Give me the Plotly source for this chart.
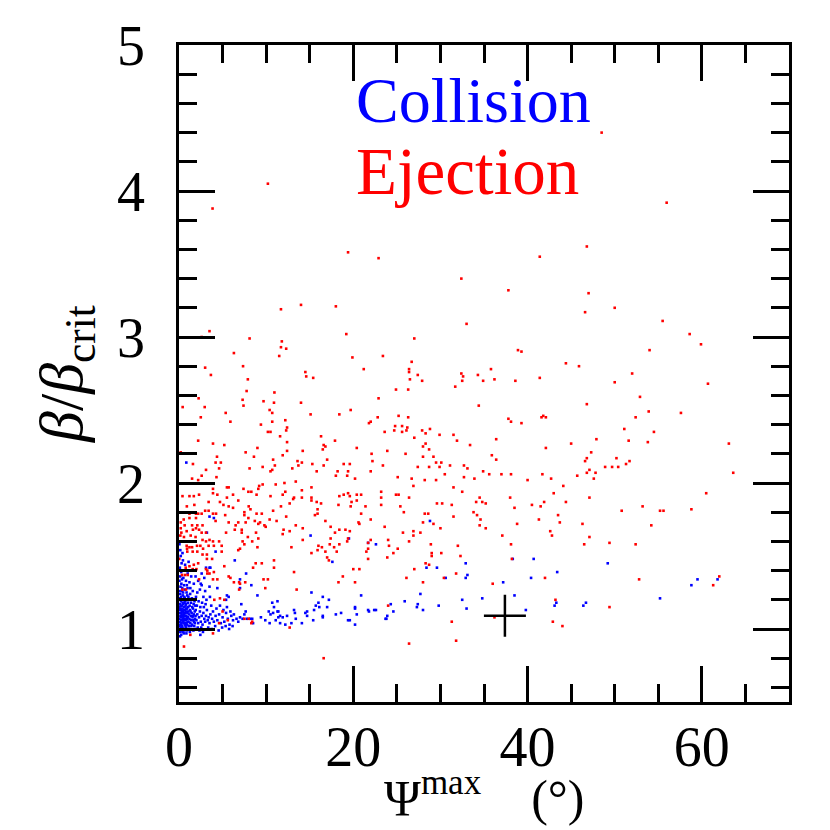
import plotly.graph_objects as go

# ---------------- data ----------------
# Ejection (red) points, grouped by region
ejection_top = [
    (10.2, 4.05), (3.85, 3.88), (55.96, 3.92), (48.5, 4.40), (19.4, 3.58), (22.9, 3.54), (46.8, 3.62),
    (41.4, 3.55), (32.4, 3.40), (37.8, 3.32), (47.0, 3.30), (46.6, 3.17), (50.0, 3.20), (55.5, 3.11),
    (11.7, 3.19), (14.0, 3.22), (18.0, 3.21), (33.0, 3.09), (3.5, 3.04), (2.6, 3.00), (19.2, 3.02),
    (27.0, 2.99), (58.6, 3.02), (59.9, 2.95), (54.0, 2.91), (6.3, 2.89), (8.1, 2.99), (11.8, 2.97),
    (11.7, 2.93), (12.3, 2.92), (11.5, 2.87), (19.9, 2.86), (23.4, 2.87), (38.9, 2.91), (39.3, 2.90),
    (44.4, 2.82), (45.9, 2.80), (7.35, 2.80), (3.0, 2.79), (3.66, 2.74), (7.9, 2.71), (7.76, 2.63),
    (10.95, 2.62), (14.5, 2.76), (14.6, 2.73), (15.4, 2.72), (21.2, 2.78), (26.7, 2.83), (26.4, 2.78),
    (26.4, 2.76), (27.4, 2.74), (26.5, 2.71), (27.9, 2.70), (24.9, 2.64), (26.3, 2.64), (31.7, 2.66),
    (32.4, 2.75), (32.6, 2.73), (32.5, 2.70), (34.3, 2.74), (34.9, 2.70), (35.8, 2.78), (36.2, 2.71),
    (38.6, 2.70), (41.4, 2.72), (50.0, 2.69), (52.0, 2.75), (60.7, 2.68), (52.9, 2.59), (22.9, 2.58),
    (2.25, 2.58), (7.3, 2.57),
]
ejection_left_mid = [
    (0.42, 2.52), (2.95, 2.52), (7.4, 2.53), (9.7, 2.56), (10.9, 2.55), (14.0, 2.55), (19.7, 2.50),
    (10.4, 2.50), (10.7, 2.48), (5.36, 2.48), (15.1, 2.47), (18.4, 2.47), (2.5, 2.45), (12.2, 2.43),
    (5.9, 2.42), (9.4, 2.40), (10.7, 2.42), (12.4, 2.38), (21.8, 2.41), (22.0, 2.42), (10.2, 2.35),
    (10.5, 2.35), (12.3, 2.36), (11.6, 2.32), (16.3, 2.32), (2.2, 2.29), (3.9, 2.27), (5.2, 2.26),
    (12.4, 2.28), (17.9, 2.29), (16.6, 2.26), (16.8, 2.25), (20.4, 2.24), (9.0, 2.24), (16.5, 2.23),
    (0.2, 2.21), (7.65, 2.21), (12.4, 2.22), (14.2, 2.22), (22.1, 2.20), (4.36, 2.18), (8.6, 2.18),
    (11.9, 2.19), (17.0, 2.16), (22.2, 2.15), (10.8, 2.16), (13.6, 2.15), (14.1, 2.14), (15.3, 2.13),
    (16.6, 2.12), (18.9, 2.13), (19.6, 2.13), (4.2, 2.14), (4.8, 2.14), (1.6, 2.13), (11.0, 2.12),
    (13.7, 2.12), (4.6, 2.10), (8.1, 2.10), (9.6, 2.11), (13.0, 2.10), (3.1, 2.09), (10.7, 2.09),
    (10.5, 2.08), (15.8, 2.08), (18.2, 2.08), (19.4, 2.08), (22.0, 2.08), (2.6, 2.05), (4.3, 2.04),
    (1.5, 2.03), (2.2, 2.02), (18.0, 2.05), (19.3, 2.05), (20.2, 2.03),
]
ejection_center_mid = [
    (34.4, 2.53), (22.8, 2.45), (25.2, 2.46), (26.3, 2.45), (37.8, 2.44), (38.1, 2.42), (39.3, 2.41),
    (41.8, 2.46), (41.6, 2.45), (42.1, 2.45), (24.8, 2.39), (25.6, 2.39), (26.2, 2.38), (26.1, 2.36),
    (24.7, 2.36), (25.6, 2.35), (23.6, 2.35), (27.9, 2.36), (28.8, 2.37), (28.3, 2.34), (29.9, 2.33),
    (31.5, 2.33), (27.0, 2.31), (31.9, 2.29), (36.4, 2.30), (28.3, 2.27), (33.4, 2.26), (28.0, 2.25),
    (28.7, 2.23), (42.1, 2.24), (45.0, 2.27), (23.9, 2.22), (26.0, 2.20), (28.0, 2.18), (29.2, 2.18),
    (35.9, 2.19), (36.4, 2.16), (29.5, 2.14), (30.1, 2.14), (23.4, 2.12), (27.4, 2.11), (28.7, 2.11),
    (29.9, 2.11), (31.1, 2.12), (32.7, 2.12), (33.1, 2.10), (30.5, 2.06), (34.9, 2.08), (35.6, 2.06),
    (37.0, 2.06), (38.1, 2.06), (41.7, 2.06), (25.1, 2.04), (26.7, 2.03), (28.2, 2.02), (29.5, 2.02),
    (32.7, 2.04), (33.9, 2.03), (40.0, 2.02), (42.7, 2.03),
]
ejection_right_mid = [
    (46.8, 2.54), (53.9, 2.49), (57.6, 2.48), (52.4, 2.45), (51.1, 2.37), (54.5, 2.35), (47.9, 2.30),
    (51.6, 2.29), (53.8, 2.28), (63.1, 2.27), (47.3, 2.21), (46.8, 2.17), (46.6, 2.15), (50.2, 2.17),
    (51.7, 2.15), (51.3, 2.13), (48.9, 2.11), (49.7, 2.11), (50.4, 2.11), (47.1, 2.09), (46.8, 2.07),
    (47.8, 2.07), (63.6, 2.07), (45.7, 2.05), (47.6, 2.03),
]
ejection_right_low = [
    (26.9, 1.98), (31.5, 1.97), (23.2, 1.94), (23.2, 1.90), (24.9, 1.92), (25.2, 1.92), (26.4, 1.90),
    (32.5, 1.94), (38.0, 1.90), (43.0, 1.93), (44.1, 1.98), (47.1, 1.90), (60.5, 1.93), (23.2, 1.85),
    (25.4, 1.84), (25.8, 1.80), (29.6, 1.86), (30.2, 1.86), (31.3, 1.85), (34.1, 1.87), (34.5, 1.90),
    (34.8, 1.87), (35.2, 1.86), (34.2, 1.78), (34.6, 1.75), (34.5, 1.71), (33.8, 1.80), (35.2, 1.69),
    (28.2, 1.79), (28.6, 1.79), (28.0, 1.73), (29.2, 1.72), (30.0, 1.69), (23.6, 1.70), (31.5, 1.77),
    (38.5, 1.83), (40.5, 1.85), (41.5, 1.84), (41.9, 1.87), (41.3, 1.75), (43.5, 1.78), (43.7, 1.73),
    (44.4, 1.87), (46.3, 1.72), (38.8, 1.72), (37.1, 1.64), (38.1, 1.58), (38.2, 1.48), (42.6, 1.67),
    (42.8, 1.64), (47.1, 1.63), (46.5, 1.58), (49.4, 1.59), (50.8, 1.81), (53.2, 1.84), (54.2, 1.71),
    (52.4, 1.58), (55.2, 1.81), (55.6, 1.81), (58.8, 1.82), (24.0, 1.61), (24.1, 1.57), (23.9, 1.49),
    (24.6, 1.52), (25.1, 1.55), (25.7, 1.66), (26.4, 1.60), (26.9, 1.67), (26.9, 1.64), (27.7, 1.66),
    (28.9, 1.58), (29.0, 1.52), (29.0, 1.50), (30.1, 1.52), (28.3, 1.45), (28.7, 1.44), (32.0, 1.57),
    (32.3, 1.50), (31.8, 1.38), (30.4, 1.35), (27.0, 1.41), (26.1, 1.35), (28.0, 1.32), (36.0, 1.31),
    (42.0, 1.35), (43.2, 1.20), (52.8, 1.34), (61.3, 1.30), (62.0, 1.36), (49.4, 1.15), (24.0, 1.16),
    (36.2, 1.08), (42.9, 1.05), (44.0, 1.02), (31.3, 1.05), (31.8, 0.92), (26.4, 0.90), (16.6, 0.80),
]
ejection_left_low = [
    (5.5, 1.97), (5.7, 1.97), (7.4, 1.96), (7.96, 1.94), (9.1, 1.96), (9.2, 1.98), (9.6, 1.99),
    (11.1, 1.99), (12.1, 2.00), (13.4, 2.01), (15.2, 1.97), (3.9, 1.96), (0.4, 1.91), (1.2, 1.91),
    (1.7, 1.91), (2.3, 1.92), (3.9, 1.93), (4.4, 1.92), (5.5, 1.90), (6.2, 1.92), (6.8, 1.88),
    (8.3, 1.94), (8.9, 1.92), (10.5, 1.91), (11.9, 1.92), (12.2, 1.94), (14.1, 1.95), (13.2, 1.90),
    (13.1, 1.89), (12.7, 1.86), (14.1, 1.90), (15.2, 1.90), (15.8, 1.87), (16.3, 1.86), (15.2, 1.88),
    (18.4, 1.91), (18.3, 1.85), (18.9, 1.92), (19.4, 1.93), (19.6, 1.91), (20.4, 1.92), (20.4, 1.88),
    (20.9, 1.92), (21.4, 1.84), (22.0, 1.75), (19.8, 1.87), (19.7, 1.84), (15.9, 1.82), (15.9, 1.79),
    (15.6, 1.78), (16.8, 1.74), (17.4, 1.70), (17.9, 1.66), (18.4, 1.68), (19.1, 1.68), (19.6, 1.67),
    (20.6, 1.73), (20.7, 1.72), (20.9, 1.79), (21.7, 1.59), (22.0, 1.61), (21.7, 1.55), (19.4, 1.62),
    (19.3, 1.60), (17.4, 1.62), (17.3, 1.58), (17.8, 1.56), (18.1, 1.53), (18.4, 1.58), (16.8, 1.53),
    (16.4, 1.56), (16.0, 1.57), (15.9, 1.54), (17.0, 1.49), (17.2, 1.47), (15.2, 1.52), (14.2, 1.61),
    (12.9, 1.56), (11.9, 1.65), (12.0, 1.68), (12.7, 1.67), (12.3, 1.77), (13.4, 1.71), (14.2, 1.69),
    (11.7, 1.84), (10.8, 1.81), (11.2, 1.74), (10.4, 1.75), (9.95, 1.70), (9.8, 1.71), (9.5, 1.79),
    (8.9, 1.79), (8.2, 1.82), (8.0, 1.84), (7.96, 1.76), (8.7, 1.74), (9.3, 1.73), (9.1, 1.72),
    (7.5, 1.80), (7.5, 1.78), (7.65, 1.73), (7.2, 1.68), (7.2, 1.66), (8.84, 1.66), (9.1, 1.62),
    (7.9, 1.63), (7.3, 1.60), (6.4, 1.68), (6.5, 1.71), (6.8, 1.73), (6.2, 1.83), (5.3, 1.78),
    (5.7, 1.84), (5.7, 1.73), (4.7, 1.87), (5.1, 1.85), (3.4, 1.87), (3.4, 1.81), (3.0, 1.81),
    (2.6, 1.79), (3.9, 1.79), (4.2, 1.74), (4.25, 1.79), (1.95, 1.79), (2.2, 1.79), (1.95, 1.76),
    (0.9, 1.84), (1.76, 1.85), (1.2, 1.79), (1.2, 1.76), (0.2, 1.73), (0.54, 1.75), (0.65, 1.71),
    (0.88, 1.67), (1.5, 1.71), (1.6, 1.68), (1.95, 1.69), (2.3, 1.68), (2.1, 1.71), (2.7, 1.71),
    (2.6, 1.66), (3.1, 1.66), (0.2, 1.69), (0.27, 1.66), (0.15, 1.64), (0.57, 1.63), (1.34, 1.64),
    (1.9, 1.63), (2.7, 1.61), (3.5, 1.61), (3.1, 1.60), (3.9, 1.60), (4.6, 1.60), (5.4, 1.66),
    (4.0, 1.57), (0.34, 1.60), (0.88, 1.57), (1.2, 1.56), (0.92, 1.55), (1.5, 1.56), (2.07, 1.57),
    (2.45, 1.57), (2.76, 1.55), (3.4, 1.57), (2.1, 1.53), (2.7, 1.51), (3.2, 1.51), (1.57, 1.53),
    (0.95, 1.53), (4.9, 1.53), (4.9, 1.57), (3.2, 1.48), (3.8, 1.48), (0.03, 1.48), (6.8, 1.54),
    (7.5, 1.58), (9.0, 1.56), (8.4, 1.60), (8.8, 1.45), (9.5, 1.45), (8.5, 1.42), (10.9, 1.42),
    (5.2, 1.43), (1.7, 1.44), (1.57, 1.41), (2.0, 1.41), (2.2, 1.45), (3.1, 1.41), (3.5, 1.38),
    (4.0, 1.39), (5.7, 1.36), (5.9, 1.35), (6.9, 1.32), (6.9, 1.27), (3.9, 1.34), (4.4, 1.34),
    (6.3, 1.32), (7.6, 1.32), (9.7, 1.34), (10.2, 1.34), (13.2, 1.39), (9.9, 1.28), (13.5, 1.27),
    (5.2, 1.20), (4.7, 1.21), (5.0, 1.12), (5.6, 1.06), (8.3, 1.04), (12.7, 1.01), (4.6, 1.04),
    (1.3, 0.96), (0.57, 0.88), (0.4, 1.27), (20.7, 1.41), (20.0, 1.41), (18.8, 1.36), (18.3, 1.32),
    (20.2, 1.32), (10.9, 1.47), (7.0, 1.55), (21.5, 1.53), (21.7, 1.48), (1.2, 1.43), (0.77, 1.42),
    (3.25, 1.40), (3.25, 1.38), (7.0, 1.31), (0.34, 1.37), (0.69, 1.37), (1.0, 1.37), (2.3, 1.34),
    (3.9, 0.97), (7.5, 1.07), (8.0, 1.07), (8.4, 1.05), (4.05, 1.20), (0.8, 1.27),
]

# Collision (blue) points
collision_spread = [
    (28.8, 1.74), (32.9, 1.45), (29.6, 1.42), (28.4, 1.42), (33.1, 1.37), (32.9, 1.35), (30.6, 1.35),
    (38.3, 1.48), (40.7, 1.48), (37.2, 1.32), (40.4, 1.35), (43.4, 1.39), (49.2, 1.45), (27.7, 1.24),
    (25.9, 1.19), (24.3, 1.17), (27.4, 1.17), (27.3, 1.15), (28.0, 1.13), (29.8, 1.16), (32.5, 1.20),
    (33.0, 1.14), (34.8, 1.21), (38.5, 1.23), (39.8, 1.13), (43.3, 1.18), (43.1, 1.16), (46.7, 1.18),
    (46.4, 1.16), (55.2, 1.21), (58.8, 1.30), (59.5, 1.34), (61.8, 1.34), (24.6, 1.12), (23.9, 1.09),
    (23.7, 1.07), (0.84, 2.14), (4.0, 1.76), (3.5, 1.77), (3.2, 1.66), (15.1, 1.64), (19.5, 1.62),
    (21.7, 1.59), (22.6, 1.58), (4.2, 1.53), (6.4, 1.47), (17.6, 1.46), (3.6, 1.42), (3.1, 1.42),
    (1.76, 1.40), (2.6, 1.38), (7.7, 1.38), (2.5, 1.31), (3.5, 1.29), (4.4, 1.28), (8.3, 1.30),
    (7.0, 1.34), (7.0, 1.28), (9.0, 1.23), (5.5, 1.23), (5.7, 1.22), (5.4, 1.20), (15.2, 1.25),
    (16.5, 1.22), (17.2, 1.20), (20.9, 1.23), (11.3, 1.19), (10.7, 1.18), (7.15, 1.17), (7.65, 1.12),
    (7.5, 1.10), (7.0, 1.08), (7.3, 1.07), (7.8, 1.07), (8.15, 1.07), (8.4, 1.07), (8.5, 1.04),
    (9.4, 1.08), (9.9, 1.06), (10.3, 1.12), (10.5, 1.10), (10.9, 1.15), (10.8, 1.11), (10.4, 1.04),
    (11.1, 1.06), (11.6, 1.04), (11.4, 1.08), (11.9, 1.08), (12.2, 1.03), (12.9, 1.04), (11.3, 1.12),
    (11.6, 1.09), (12.4, 1.09), (13.3, 1.11), (13.4, 1.07), (14.1, 1.04), (14.5, 1.11), (14.7, 1.09),
    (15.5, 1.13), (15.4, 1.06), (16.0, 1.18), (16.1, 1.15), (16.5, 1.09), (16.5, 1.08), (17.0, 1.15),
    (18.0, 1.10), (18.6, 1.11), (19.4, 1.06), (20.2, 1.03), (20.4, 1.10), (20.2, 1.14), (21.7, 1.13),
    (22.4, 1.13), (3.5, 1.42), (11.4, 1.12), (13.2, 1.13), (14.7, 1.12), (15.7, 1.16), (19.6, 1.06),
    (20.2, 1.15), (21.8, 1.12), (22.6, 1.13), (23.8, 1.07),
]
collision_core = [
    (0.05, 1.02), (0.12, 1.05), (0.2, 1.08), (0.08, 1.11), (0.15, 1.14), (0.25, 1.03), (0.3, 1.10),
    (0.35, 1.06), (0.1, 1.17), (0.22, 1.19), (0.4, 1.01), (0.45, 1.12), (0.5, 1.08), (0.55, 1.04),
    (0.6, 1.15), (0.42, 1.18), (0.38, 1.09), (0.65, 1.07), (0.7, 1.11), (0.75, 1.02), (0.03, 1.07),
    (0.18, 1.00), (0.28, 1.13), (0.33, 1.16), (0.48, 1.05), (0.58, 1.10), (0.68, 1.13), (0.78, 1.06),
    (0.85, 1.09), (0.9, 1.14), (0.95, 1.03), (1.0, 1.08), (1.05, 1.12), (1.1, 1.05), (1.15, 1.10),
    (1.2, 1.07), (1.25, 1.13), (1.3, 1.04), (1.35, 1.09), (1.4, 1.06), (0.06, 1.21), (0.14, 1.24),
    (0.24, 1.22), (0.32, 1.26), (0.44, 1.23), (0.52, 1.20), (0.62, 1.22), (0.72, 1.19), (0.82, 1.17),
    (0.92, 1.20), (0.02, 0.99), (0.11, 0.98), (0.21, 1.01), (0.31, 0.99), (0.41, 0.98), (0.51, 1.00),
    (0.61, 0.99), (0.71, 1.00), (0.81, 1.01), (0.91, 0.99), (1.45, 1.11), (1.5, 1.03), (1.55, 1.08),
    (1.6, 1.14), (1.65, 1.06), (1.7, 1.10), (1.75, 1.02), (1.8, 1.12), (1.85, 1.07), (1.9, 1.09),
    (0.16, 1.09), (0.26, 1.06), (0.36, 1.12), (0.46, 1.09), (0.56, 1.13), (0.66, 1.03), (0.76, 1.16),
    (0.86, 1.04), (0.96, 1.11), (1.06, 1.15), (0.09, 1.13), (0.19, 1.16), (0.29, 1.04), (0.39, 1.14),
    (0.49, 1.17), (0.59, 1.06), (0.69, 1.09), (0.79, 1.12), (0.89, 1.07), (0.99, 1.05), (1.02, 1.18),
    (1.12, 1.02), (1.22, 1.16), (1.32, 1.12), (1.42, 1.02), (1.52, 1.15), (1.62, 1.09), (1.72, 1.05),
    (1.82, 1.04), (1.92, 1.13), (0.04, 1.15), (0.13, 1.03), (0.23, 1.11), (0.34, 1.02), (0.43, 1.07),
    (0.53, 1.11), (0.63, 1.18), (0.73, 1.04), (0.83, 1.14), (0.93, 1.08), (0.07, 1.26), (0.17, 1.29),
    (0.27, 1.31), (0.37, 1.28), (0.47, 1.25), (0.57, 1.30), (0.67, 1.27), (0.87, 1.25), (1.08, 1.22),
    (1.18, 1.20), (2.0, 1.06), (2.1, 1.10), (2.2, 1.04), (2.3, 1.08), (2.4, 1.12), (2.5, 1.05),
    (2.6, 1.09), (2.7, 1.03), (2.8, 1.11), (2.9, 1.07), (3.0, 1.05), (3.1, 1.09), (3.2, 1.13),
    (3.3, 1.06), (3.4, 1.08), (3.5, 1.04), (3.6, 1.10), (3.8, 1.07), (4.0, 1.05), (4.2, 1.09),
    (2.05, 1.16), (2.25, 1.19), (2.45, 1.15), (2.65, 1.18), (2.85, 1.15), (3.05, 1.17), (2.15, 1.01),
    (2.35, 0.99), (2.55, 1.01), (2.75, 0.98), (1.95, 1.22), (1.48, 1.21), (1.28, 1.24), (0.98, 1.28),
    (1.58, 1.26), (1.78, 1.19), (1.38, 1.18), (1.68, 1.17), (1.88, 1.16), (1.15, 1.00), (4.4, 1.06),
    (4.6, 1.10), (4.8, 1.04), (5.0, 1.08), (5.2, 1.05), (5.4, 1.11), (5.6, 1.07), (5.8, 1.03),
    (6.0, 1.09), (6.2, 1.06), (4.3, 1.14), (4.7, 1.16), (5.1, 1.13), (5.5, 1.15), (5.9, 1.12),
    (6.3, 1.10), (6.6, 1.07), (6.8, 1.05), (3.7, 1.16), (3.9, 1.12), (3.35, 1.01), (3.75, 1.00),
    (4.15, 1.02), (4.55, 0.99), (4.95, 1.01), (5.35, 1.02), (5.75, 1.00), (6.15, 1.02), (3.15, 1.20),
    (3.55, 1.22), (0.05, 1.33), (0.15, 1.36), (0.25, 1.39), (0.35, 1.34), (0.1, 1.42), (0.3, 1.45),
    (0.5, 1.35), (0.6, 1.40), (0.45, 1.47), (0.2, 1.50), (0.8, 1.33), (1.0, 1.38), (0.7, 1.44),
    (0.9, 1.30), (1.2, 1.32), (0.15, 1.54), (0.4, 1.52), (0.05, 1.58), (1.1, 1.46), (1.4, 1.36),
    (0.55, 0.97), (0.25, 0.96), (0.85, 0.97), (1.25, 0.98), (1.65, 0.99), (2.45, 0.96), (0.12, 0.95),
    (1.95, 1.00), (0.65, 1.21), (0.95, 1.23), (2.1, 1.25), (2.4, 1.27), (2.8, 1.22), (1.7, 1.31),
    (2.2, 1.33), (2.6, 1.30), (3.0, 1.26), (1.3, 1.28), (1.9, 1.36), (2.9, 1.35),
]

marker_point = [(37.4, 1.09)]

x_tickvals = [0, 20, 40, 60]
y_tickvals = [1, 2, 3, 4, 5]

ejection = (ejection_top + ejection_left_mid + ejection_center_mid + ejection_right_mid
            + ejection_right_low + ejection_left_low)
collision = collision_spread + collision_core

FONT = "Liberation Serif"

fig = go.Figure()
fig.add_trace(go.Scatter(
    x=[p[0] for p in collision], y=[p[1] for p in collision], mode="markers",
    marker=dict(color="#0000ff", size=2.6, symbol="square", line=dict(width=0)),
    name="Collision", hoverinfo="skip"))
fig.add_trace(go.Scatter(
    x=[p[0] for p in ejection], y=[p[1] for p in ejection], mode="markers",
    marker=dict(color="#ff0000", size=2.6, symbol="square", line=dict(width=0)),
    name="Ejection", hoverinfo="skip"))
fig.add_trace(go.Scatter(
    x=[p[0] for p in marker_point], y=[p[1] for p in marker_point], mode="markers",
    marker=dict(symbol="cross-thin", size=30, color="black", line=dict(width=2.5, color="black")),
    hoverinfo="skip"))

axis_common = dict(
    ticks="inside", tickwidth=2.5, tickcolor="black", showline=True, linewidth=2.5,
    linecolor="black", mirror="ticks", showgrid=False, zeroline=False, automargin=False,
    tickfont=dict(family=FONT, size=56, color="black"),
)
fig.update_xaxes(
    range=[0, 70], tickvals=x_tickvals, ticklen=36,
    minor=dict(dtick=5, tick0=0, ticklen=18, tickwidth=2.5, tickcolor="black", ticks="inside", showgrid=False),
    ticklabelstandoff=-6,
    **axis_common)
fig.update_yaxes(
    range=[0.5, 5], tickvals=y_tickvals, ticklen=36,
    minor=dict(dtick=0.2, tick0=0, ticklen=18, tickwidth=2.5, tickcolor="black", ticks="inside", showgrid=False),
    ticklabelstandoff=20,
    title=dict(text="<i>β</i>/<i>β</i><sub>crit</sub>", font=dict(family=FONT, size=62, color="black")),
    **axis_common)

# x-axis title, placed explicitly so that it sits inside the page
fig.add_annotation(x=0.5, y=-0.192, xref="paper", yref="paper", text="Ψ<sup>max</sup>    (°)",
                   showarrow=False, xanchor="center", yanchor="bottom",
                   font=dict(family=FONT, size=50, color="black"))

fig.add_annotation(x=0.483, y=0.915, xref="paper", yref="paper", text="Collision", showarrow=False,
                   xanchor="center", yanchor="middle", font=dict(family=FONT, size=64, color="#0000ff"))
fig.add_annotation(x=0.473, y=0.808, xref="paper", yref="paper", text="Ejection", showarrow=False,
                   xanchor="center", yanchor="middle", font=dict(family=FONT, size=67, color="#ff0000"))

# the page body adds an 8 px offset, so the margins are shifted to keep the plot frame in place
fig.update_layout(
    width=830, height=830, margin=dict(l=171, r=49, t=37, b=136),
    plot_bgcolor="white", paper_bgcolor="white", showlegend=False,
    font=dict(family=FONT, color="black"),
)
fig.write_html("out.html")
